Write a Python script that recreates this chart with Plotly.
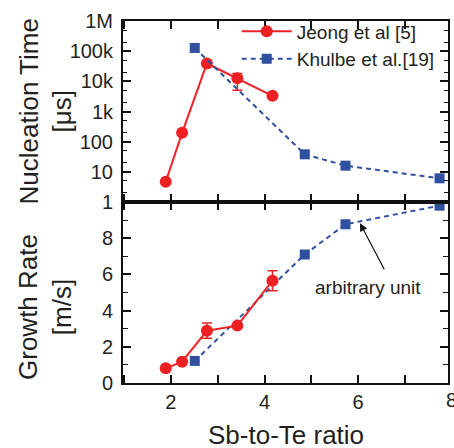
import plotly.graph_objects as go

# ---------------- data ----------------
jeong_x = [1.89, 2.24, 2.77, 3.42, 4.17]
jeong_nuc = [4.7, 196, 39000, 12600, 3300]
jeong_nuc_err_plus = [0, 0, 0, 5700, 0]
jeong_nuc_err_minus = [0, 0, 0, 7500, 0]
jeong_growth = [0.81, 1.18, 2.89, 3.17, 5.65]
jeong_growth_err = [0, 0, 0.42, 0, 0.55]

khulbe_x = [2.51, 4.86, 5.73, 7.74]
khulbe_nuc = [128000, 38, 16, 6.1]
khulbe_growth = [1.22, 7.1, 8.77, 9.8]

nuc_tickvals = [1, 10, 100, 1000, 10000, 100000, 1000000]
nuc_ticktext = ["1", "10", "100", "1k", "10k", "100k", "1M"]
growth_tickvals = [0, 2, 4, 6, 8]
x_tickvals = [2, 4, 6]

RED = "#ed2024"
BLUE = "#2f4f9f"
INK = "#231f20"
FONT = "Liberation Sans, Arial, sans-serif"

fig = go.Figure()

# top panel (nucleation time)
fig.add_trace(go.Scatter(
    x=jeong_x, y=jeong_nuc, xaxis="x2", yaxis="y2", mode="lines+markers",
    name="Jeong et al [5]",
    line=dict(color=RED, width=2),
    marker=dict(symbol="circle", size=12, color=RED),
    error_y=dict(type="data", array=jeong_nuc_err_plus, arrayminus=jeong_nuc_err_minus,
                 color=RED, thickness=1.5, width=5, symmetric=False),
))
fig.add_trace(go.Scatter(
    x=khulbe_x, y=khulbe_nuc, xaxis="x2", yaxis="y2", mode="lines+markers",
    name="Khulbe et al.[19]",
    line=dict(color=BLUE, width=2, dash="5px,4px"),
    marker=dict(symbol="square", size=10, color=BLUE),
))

# bottom panel (growth rate)
fig.add_trace(go.Scatter(
    x=khulbe_x, y=khulbe_growth, xaxis="x", yaxis="y", mode="lines+markers",
    showlegend=False,
    line=dict(color=BLUE, width=2, dash="5px,4px"),
    marker=dict(symbol="square", size=10, color=BLUE),
))
fig.add_trace(go.Scatter(
    x=jeong_x, y=jeong_growth, xaxis="x", yaxis="y", mode="lines+markers",
    showlegend=False,
    line=dict(color=RED, width=2),
    marker=dict(symbol="circle", size=12, color=RED),
    error_y=dict(type="data", array=jeong_growth_err, color=RED, thickness=1.5, width=5),
))

XRANGE = [0.977, 7.92]
axis_common = dict(showline=True, linecolor="#111", linewidth=2, mirror="allticks",
                   ticks="inside", tickcolor="#111", tickwidth=1.5, showgrid=False,
                   zeroline=False, tickfont=dict(family=FONT, size=20, color=INK))

fig.update_layout(
    width=454, height=448,
    margin=dict(l=123, r=4, t=21, b=65),
    paper_bgcolor="white", plot_bgcolor="white",
    font=dict(family=FONT, color=INK),
    xaxis=dict(domain=[0, 1], range=XRANGE, anchor="y",
               tickvals=x_tickvals, ticklen=8,
               minor=dict(ticks="inside", tick0=3, dtick=2, ticklen=8, tickcolor="#111", tickwidth=1.5),
               **axis_common),
    yaxis=dict(domain=[0, 0.5], range=[0, 10], anchor="x",
               tickvals=growth_tickvals, ticklen=8, ticklabelstandoff=4,
               minor=dict(ticks="inside", tick0=1, dtick=2, ticklen=5, tickcolor="#111", tickwidth=1.2),
               **axis_common),
    xaxis2=dict(domain=[0, 1], range=XRANGE, anchor="y2", matches="x",
                tickvals=x_tickvals, ticklen=8, showticklabels=False,
                minor=dict(ticks="inside", tick0=3, dtick=2, ticklen=8, tickcolor="#111", tickwidth=1.5),
                **axis_common),
    yaxis2=dict(domain=[0.5, 1], type="log", range=[0, 6], anchor="x2",
                tickvals=nuc_tickvals, ticktext=nuc_ticktext, ticklen=8, ticklabelstandoff=4,
                minor=dict(ticks="inside", ticklen=4, tickcolor="#111", tickwidth=1),
                **axis_common),
    legend=dict(x=0.35, y=1.024, xanchor="left", yanchor="top", bgcolor="rgba(0,0,0,0)",
                font=dict(family=FONT, size=19, color=INK), itemwidth=50,
                tracegroupgap=0),
    showlegend=True,
)

# "8" tick label sits just beyond the plotted range at the right edge
fig.add_annotation(x=(8 - XRANGE[0]) / (XRANGE[1] - XRANGE[0]), y=0, xref="paper", yref="paper",
                   text="8", showarrow=False, xanchor="center", yanchor="top", yshift=-4,
                   font=dict(family=FONT, size=20, color=INK))

# axis titles
fig.add_annotation(x=-0.24, y=0.75, xref="paper", yref="paper", textangle=-90,
                   xanchor="center", yanchor="middle",
                   text="Nucleation Time<br>[μs]", showarrow=False,
                   font=dict(family=FONT, size=26, color=INK))
fig.add_annotation(x=-0.24, y=0.21, xref="paper", yref="paper", textangle=-90,
                   xanchor="center", yanchor="middle",
                   text="Growth Rate<br>[m/s]", showarrow=False,
                   font=dict(family=FONT, size=26, color=INK))
fig.add_annotation(x=0.5, y=-0.143, xref="paper", yref="paper",
                   xanchor="center", yanchor="middle",
                   text="Sb-to-Te ratio", showarrow=False,
                   font=dict(family=FONT, size=26, color=INK))

# arbitrary unit label and arrow
fig.add_annotation(x=6.22, y=5.25, xref="x", yref="y", text="arbitrary unit",
                   showarrow=False, font=dict(family=FONT, size=19, color=INK))
fig.add_annotation(x=6.04, y=8.83, xref="x", yref="y", ax=6.575, ay=6.2,
                   axref="x", ayref="y", text="", showarrow=True,
                   arrowhead=2, arrowsize=1.3, arrowwidth=1.2, arrowcolor="#111")

fig.write_html("out.html")
